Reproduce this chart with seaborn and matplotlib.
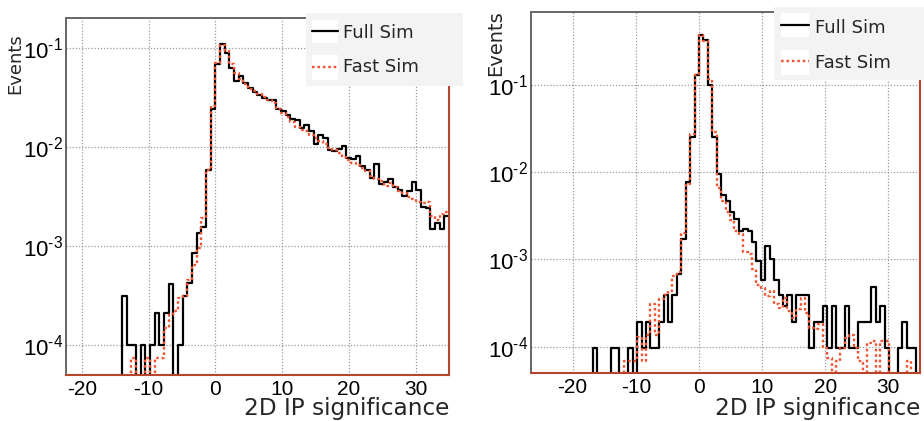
import numpy as np
import pandas as pd
import matplotlib
matplotlib.use("Agg")
import matplotlib.pyplot as plt
import seaborn as sns
from matplotlib.lines import Line2D
from matplotlib.patches import Rectangle
from matplotlib.ticker import FixedLocator, MultipleLocator, FixedFormatter, NullFormatter

# ---------------- data ----------------
BIN_WIDTH = 0.7
left_xmin, left_xmax = -22.4, 35.0
right_xmin, right_xmax = -26.6, 35.0

full_left = [0]*12 + [
    3.1e-4, 1.0e-4, 1.0e-4, 0, 1.0e-4, 0, 1.0e-4, 2.1e-4, 1.0e-4, 2.1e-4,
    4.1e-4, 0, 1.0e-4, 3.1e-4, 4.2e-4, 8.5e-4, 1.36e-3, 1.55e-3, 5.8e-3, 0.024,
    0.069, 0.109, 0.089, 0.063, 0.046, 0.052, 0.044, 0.0395, 0.036, 0.0335,
    0.0313, 0.0300, 0.0298, 0.0239, 0.0230, 0.0212, 0.0192, 0.0185, 0.0156, 0.0168,
    0.0144, 0.0106, 0.0133, 0.0124, 0.0094, 0.0091, 0.0096, 0.0103, 0.0078, 0.0075,
    0.0081, 0.0064, 0.0059, 0.0049, 0.0067, 0.0042, 0.0044, 0.0047, 0.0039, 0.0037,
    0.0032, 0.0036, 0.0044, 0.0037, 0.0025, 0.0024, 0.00147, 0.00171, 0.00147, 0.0020]

fast_left = [0]*14 + [
    7.5e-5, 0, 0, 7.5e-5, 0, 7.5e-5, 7.5e-5, 1.5e-4, 2.0e-4, 2.2e-4,
    3.0e-4, 3.1e-4, 4.5e-4, 6.5e-4, 9.5e-4, 1.9e-3, 5.8e-3, 0.026, 0.070, 0.108,
    0.092, 0.068, 0.056, 0.049, 0.0427, 0.0385, 0.037, 0.034, 0.032, 0.030,
    0.028, 0.024, 0.022, 0.020, 0.0178, 0.016, 0.0148, 0.0144, 0.0133, 0.0124,
    0.0114, 0.0106, 0.0098, 0.0093, 0.0086, 0.0080, 0.0074, 0.0069, 0.0065, 0.0061,
    0.0057, 0.0051, 0.0047, 0.0045, 0.0040, 0.0043, 0.0039, 0.0036, 0.0034, 0.0031,
    0.0030, 0.0028, 0.0027, 0.0028, 0.0020, 0.00185, 0.0021, 0.0022]

full_right = [0]*14 + [
    9.7e-5, 0, 0, 0, 9.7e-5, 9.7e-5, 0, 0, 9.7e-5, 0,
    1.94e-4, 9.7e-5, 1.94e-4, 9.7e-5, 9.7e-5, 1.94e-4, 3.9e-4, 1.94e-4, 3.9e-4, 6.8e-4,
    1.7e-3, 7.6e-3, 0.0255, 0.128, 0.368, 0.325, 0.099, 0.0255, 0.0096, 5.4e-3,
    4.6e-3, 3.45e-3, 2.9e-3, 2.13e-3, 2.22e-3, 2.13e-3, 1.59e-3, 9.6e-4, 5.8e-4, 1.43e-3,
    1.0e-3, 5.8e-4, 3.9e-4, 2.9e-4, 3.9e-4, 1.94e-4, 3.9e-4, 3.9e-4, 3.9e-4, 9.7e-5,
    1.94e-4, 1.94e-4, 2.9e-4, 9.7e-5, 2.9e-4, 9.7e-5, 9.7e-5, 2.9e-4, 9.7e-5, 9.7e-5,
    1.94e-4, 1.94e-4, 1.94e-4, 4.85e-4, 1.94e-4, 2.9e-4, 9.7e-5, 0, 0, 9.7e-5,
    1.94e-4, 9.7e-5, 9.7e-5, 0]

fast_right = [0]*21 + [
    6.8e-5, 6.8e-5, 6.8e-5, 1.3e-4, 6.8e-5, 1.35e-4, 3.1e-4, 1.35e-4, 3.5e-4, 3.9e-4,
    4.3e-4, 6.5e-4, 7.2e-4, 2.0e-3, 7.3e-3, 0.027, 0.13, 0.37, 0.32, 0.116,
    0.029, 6.5e-3, 4.6e-3, 3.45e-3, 2.8e-3, 2.13e-3, 1.95e-3, 1.2e-3, 1.15e-3, 7.7e-4,
    5.1e-4, 4.75e-4, 3.8e-4, 4.35e-4, 3.06e-4, 2.8e-4, 3.65e-4, 2.56e-4, 2.15e-4, 2.68e-4,
    3.65e-4, 2.45e-4, 1.65e-4, 1.58e-4, 1.8e-4, 9.7e-5, 7.5e-5, 0, 6.8e-5, 9.7e-5,
    1.27e-4, 1.36e-4, 9.7e-5, 6.8e-5, 0, 1.1e-4, 1.16e-4, 0, 1.16e-4, 1.16e-4,
    0, 0, 0, 0, 6.8e-5, 0, 0]

x_ticks = [-20, -10, 0, 10, 20, 30]
x_tick_labels = ["-20", "-10", "0", "10", "20", "30"]
y_ticks = [1e-4, 1e-3, 1e-2, 1e-1]
y_tick_labels = [r"$\mathregular{10^{\text{-}4}}$", r"$\mathregular{10^{\text{-}3}}$",
                 r"$\mathregular{10^{\text{-}2}}$", r"$\mathregular{10^{\text{-}1}}$"]
legend_labels = ["Full Sim", "Fast Sim"]
x_title = "2D IP significance"
y_title = "Events"

# ---------------- style ----------------
sns.set_theme(style="white")
plt.rcParams["font.family"] = ["DejaVu Sans"]
plt.rcParams["axes.unicode_minus"] = False
plt.rcParams["mathtext.fontset"] = "custom"
plt.rcParams["mathtext.rm"] = "Liberation Sans"

RED = "#ef5330"
FRAME_RED = "#b9442c"
GRAY = "#666666"
DOT = (0, (1.1, 1.2))

W, H = 924, 421
fig = plt.figure(figsize=(W / 100, H / 100), dpi=100)
fig.patch.set_facecolor("white")


def px_axes(l, t, r, b):
    return fig.add_axes([l / W, 1 - b / H, (r - l) / W, (b - t) / H])


def draw_panel(ax, xmin, xmax, full, fast, ymax):
    n = len(full)
    edges = xmin + BIN_WIDTH * np.arange(n + 1)
    centers = edges[:-1] + BIN_WIDTH / 2
    df = pd.DataFrame({"x": centers, "full": np.asarray(full, float),
                       "fast": np.asarray(fast, float)})
    sns.histplot(data=df, x="x", weights="full", bins=edges.tolist(), element="step",
                 fill=False, color="black", linewidth=1.6, ax=ax, zorder=3)
    sns.histplot(data=df, x="x", weights="fast", bins=edges.tolist(), element="step",
                 fill=False, color=RED, linewidth=1.7, linestyle=DOT, ax=ax, zorder=4)
    ax.set_yscale("log")
    ax.set_xlim(xmin, xmax)
    ax.set_ylim(5e-5, ymax)
    ax.set_xlabel("")
    ax.set_ylabel("")
    ax.set_facecolor("white")

    ax.xaxis.set_major_locator(FixedLocator(x_ticks))
    ax.xaxis.set_major_formatter(FixedFormatter(x_tick_labels))
    ax.xaxis.set_minor_locator(MultipleLocator(2))
    ax.yaxis.set_major_locator(FixedLocator(y_ticks))
    ax.yaxis.set_major_formatter(FixedFormatter(y_tick_labels))
    minors = [m * 10.0 ** e for e in range(-5, 0) for m in range(2, 10)]
    ax.yaxis.set_minor_locator(FixedLocator(minors))
    ax.yaxis.set_minor_formatter(NullFormatter())

    ax.tick_params(axis="both", which="both", direction="in", colors=GRAY,
                   labelcolor="black", top=False, right=False, width=1.0)
    ax.tick_params(axis="x", which="major", length=8, labelsize=15, pad=3.5,
                   labelfontfamily="Liberation Sans")
    ax.tick_params(axis="x", which="minor", length=4)
    ax.tick_params(axis="y", which="major", length=10, labelsize=16, pad=2,
                   labelfontfamily="Liberation Sans")
    ax.tick_params(axis="y", which="minor", length=5.5)

    ax.grid(True, which="major", color="#9a9a9a", linestyle=(0, (1, 1.5)), linewidth=0.9)
    ax.set_axisbelow(True)
    for s in ("top", "left"):
        ax.spines[s].set_color(GRAY)
        ax.spines[s].set_linewidth(1.4)
    for s in ("right", "bottom"):
        ax.spines[s].set_color(FRAME_RED)
        ax.spines[s].set_linewidth(1.5)
    for s in ax.spines.values():
        s.set_zorder(5)


axL = px_axes(66, 18, 449, 375)
axR = px_axes(531, 12, 920, 373)
draw_panel(axL, left_xmin, left_xmax, full_left, fast_left, 0.2)
draw_panel(axR, right_xmin, right_xmax, full_right, fast_right, 0.68)

# axis titles
fig.text(449 / W, 1 - 415 / H, x_title, ha="right", va="baseline", fontsize=16.7)
fig.text(920 / W, 1 - 415 / H, x_title, ha="right", va="baseline", fontsize=16.7)
fig.text(15.5 / W, 1 - 33 / H, y_title, rotation=90, ha="center", va="top", fontsize=13)
fig.text(496 / W, 1 - 10 / H, y_title, rotation=90, ha="center", va="top", fontsize=14)


# legends (drawn in figure pixel space, over the frames)
def px_rect(l, t, r, b, color):
    fig.patches.append(Rectangle((l / W, 1 - b / H), (r - l) / W, (b - t) / H,
                                 transform=fig.transFigure, facecolor=color,
                                 edgecolor="none", zorder=10))


def legend(box, sx0, sx1, rows, text_x):
    px_rect(*box, "#f3f3f3")
    styles = [dict(color="black", linewidth=1.6, linestyle="-"),
              dict(color=RED, linewidth=1.7, linestyle=DOT)]
    for (top, bot, ly, base), label, st in zip(rows, legend_labels, styles):
        px_rect(sx0, top, sx1, bot, "white")
        fig.lines.append(Line2D([sx0 / W, sx1 / W], [1 - ly / H, 1 - ly / H],
                                transform=fig.transFigure, zorder=11, **st))
        fig.text(text_x / W, 1 - base / H, label, ha="left", va="baseline",
                 fontsize=13, zorder=12)


legend((306, 13, 463, 86), 312, 338, [(20, 43, 31, 37.7), (55, 80, 67, 71.7)], 343)
legend((774, 7, 924, 80), 781, 809, [(13, 37, 25, 32.7), (50, 75, 61, 67.7)], 815)

fig.savefig("out.png", dpi=100, facecolor="white")
